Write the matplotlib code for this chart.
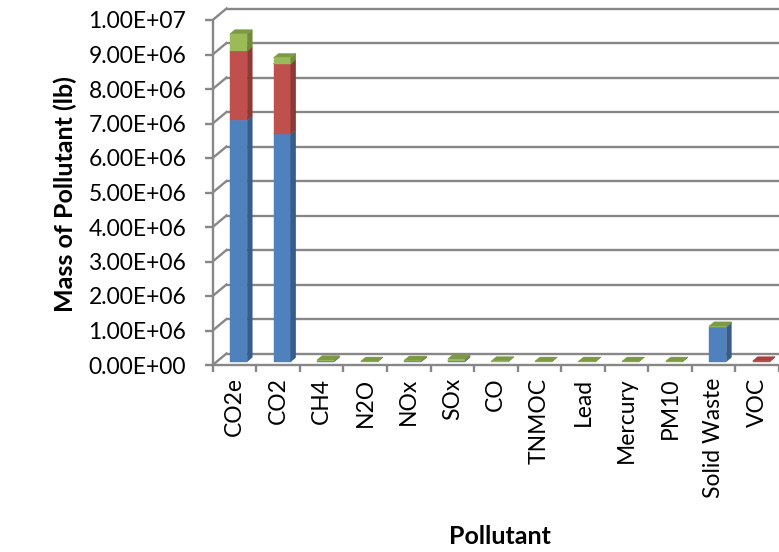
import matplotlib
matplotlib.use("Agg")

import matplotlib.pyplot as plt
from matplotlib.patches import Polygon

# DATA
pollutants = [
    "CO2e", "CO2", "CH4", "N2O", "NOx", "SOx", "CO",
    "TNMOC", "Lead", "Mercury", "PM10", "Solid Waste", "VOC"
]

blue_values = [7.0e6, 6.6e6, 2e4, 0, 1e4, 2e4, 0, 0, 0, 0, 0, 1.0e6, 0]
red_values = [2.0e6, 2.03e6, 0, 0, 0, 0, 0, 0, 0, 0, 0, 0, 2e4]
green_values = [0.5e6, 0.18e6, 3e4, 1e4, 3e4, 6e4, 2e4, 1e4, 1e4, 1e4, 1e4, 3e4, 0]

y_ticks = [0, 1e6, 2e6, 3e6, 4e6, 5e6, 6e6, 7e6, 8e6, 9e6, 1e7]

# COLOURS (front, side, top)
series_colors = [
    ("#4F81BD", "#385D8A", "#6A95CB"),
    ("#C0504D", "#8C3A38", "#A8403D"),
    ("#9BBB59", "#6F8A3B", "#7C9A44"),
]
grid_color = "#878787"

# PIXEL SCALES
PX_X = 1 / 44.2
PX_Y = 1e6 / 34.5
DX = 14 * PX_X
DY = 11.5 * PX_Y
BAR_W = 17.5 * PX_X
DEPTH_START = 0.3
BAR_DEPTH = 0.36

plt.rcParams["font.family"] = ["Lato", "DejaVu Sans"]

fig = plt.figure(figsize=(7.79, 5.52), dpi=100)

ax = fig.add_axes([
    212.7 / 779,
    (552 - 365) / 552,
    (779 - 212.7) / 779,
    365 / 552
])

x_right = -0.5 + (779 - 212.7) / 44.2
ax.set_xlim(-0.5, x_right)
ax.set_ylim(0, 365 * PX_Y)

# BACK WALL GRIDLINES AND LEFT WALL
for v in y_ticks:
    ax.plot([-0.5 + DX, x_right + 1], [v + DY, v + DY],
            color=grid_color, lw=1.7, zorder=1, solid_capstyle="butt")
    ax.plot([-0.5, -0.5 + DX], [v, v + DY],
            color=grid_color, lw=1.7, zorder=1)


# BARS
def draw_box(i, y0, y1, colors, z):
    front, side, top = colors
    x0 = i + DEPTH_START * DX - BAR_W / 2
    x1 = x0 + BAR_W
    oy = DEPTH_START * DY
    dx = BAR_DEPTH * DX
    dy = BAR_DEPTH * DY
    ax.add_patch(Polygon(
        [(x0, y0 + oy), (x1, y0 + oy), (x1, y1 + oy), (x0, y1 + oy)],
        fc=front, ec=front, lw=0.3, zorder=z))
    ax.add_patch(Polygon(
        [(x1, y0 + oy), (x1 + dx, y0 + oy + dy),
         (x1 + dx, y1 + oy + dy), (x1, y1 + oy)],
        fc=side, ec=side, lw=0.3, zorder=z))
    ax.add_patch(Polygon(
        [(x0, y1 + oy), (x1, y1 + oy),
         (x1 + dx, y1 + oy + dy), (x0 + dx, y1 + oy + dy)],
        fc=top, ec=top, lw=0.3, zorder=z + 0.5))


for i in range(len(pollutants)):
    base = 0
    z = 3
    for values, colors in zip([blue_values, red_values, green_values], series_colors):
        v = values[i]
        if v > 0:
            draw_box(i, base, base + v, colors, z)
            base += v
        z += 1

# AXES LINES
for side in ["top", "right"]:
    ax.spines[side].set_visible(False)
ax.spines["left"].set_bounds(0, 1e7)
ax.spines["left"].set_color(grid_color)
ax.spines["left"].set_linewidth(1.7)
ax.spines["bottom"].set_color(grid_color)
ax.spines["bottom"].set_linewidth(1.7)
ax.spines["left"].set_zorder(2)
ax.spines["bottom"].set_zorder(2)

# Y TICKS
ax.set_yticks(y_ticks)
ax.set_yticklabels([f"{v:.2E}" for v in y_ticks])
ax.tick_params(axis="y", length=6, width=1.7, color=grid_color,
               pad=13, labelsize=16.5, labelcolor="black")

# X TICKS
ax.set_xticks([k - 0.5 for k in range(len(pollutants) + 1)])
ax.set_xticklabels([])
ax.set_xticks(range(len(pollutants)), minor=True)
ax.set_xticklabels(pollutants, minor=True, rotation=90, va="top",
                   ha="center", fontsize=16.5)
ax.tick_params(axis="x", which="major", length=5, width=1.7, color=grid_color)
ax.tick_params(axis="x", which="minor", length=0, pad=9)

# AXIS TITLES
fig.text(65 / 779, 1 - 194 / 552, "Mass of Pollutant (lb)",
         rotation=90, ha="center", va="center",
         fontsize=18, fontweight="bold")
fig.text(500 / 779, 1 - 537 / 552, "Pollutant",
         ha="center", va="center", fontsize=18, fontweight="bold")

fig.savefig("out.png", dpi=100)
